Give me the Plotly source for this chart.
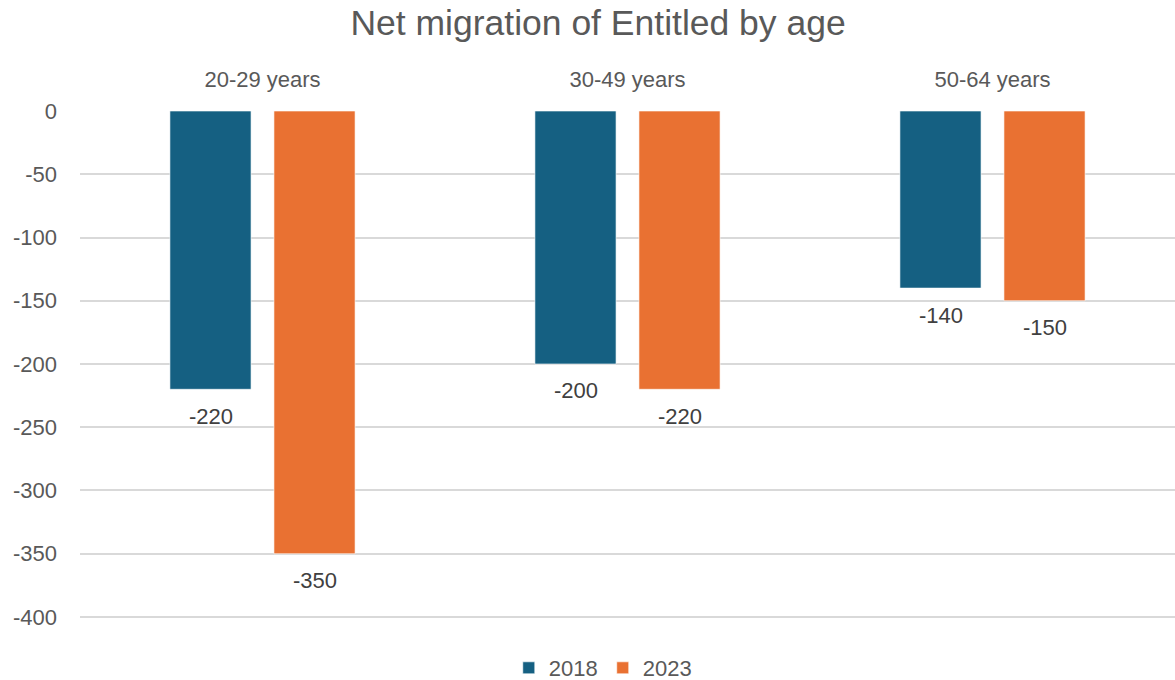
import plotly.graph_objects as go

# Net migration of Entitled, by age group and year
age_groups = ["20-29 years", "30-49 years", "50-64 years"]
years = ["2018", "2023"]
net_2018 = [-220, -200, -140]
net_2023 = [-350, -220, -150]
y_ticks = [0, -50, -100, -150, -200, -250, -300, -350, -400]

colors = {"2018": "#156082", "2023": "#E97132"}
series = {"2018": net_2018, "2023": net_2023}

FONT = "Liberation Sans, Arial, sans-serif"
TICK_GRAY = "#595959"
LABEL_GRAY = "#404040"

fig = go.Figure()
for yr in years:
    fig.add_trace(go.Bar(
        name=yr,
        x=age_groups,
        y=series[yr],
        marker=dict(color=colors[yr], line=dict(color="rgba(255,255,255,0.6)", width=1)),
        hoverinfo="x+y+name",
    ))

# Value labels beneath each bar end
offsets = {"2018": -52, "2023": 52}
for yr in years:
    for cat, val in zip(age_groups, series[yr]):
        fig.add_annotation(
            x=cat, y=val, xref="x", yref="y",
            text=str(val), showarrow=False,
            xshift=offsets[yr], yshift=-27,
            font=dict(family=FONT, size=22, color=LABEL_GRAY),
        )

fig.update_layout(
    width=1175, height=680,
    margin=dict(l=80, r=0, t=111, b=62),
    paper_bgcolor="white", plot_bgcolor="white",
    barmode="group",
    bargap=0.43,
    bargroupgap=0.22,
    title=dict(
        text="Net migration of Entitled by age",
        x=0.509, xanchor="center", xref="container",
        y=1 - 23 / 680, yanchor="middle", yref="container",
        font=dict(family=FONT, size=35.5, color=TICK_GRAY),
    ),
    xaxis=dict(
        side="top",
        showgrid=False, zeroline=False, showline=False, ticks="",
        tickfont=dict(family=FONT, size=22, color=TICK_GRAY),
        ticklabelstandoff=19,
    ),
    yaxis=dict(
        range=[-400.8, 0],
        tickvals=y_ticks,
        ticktext=[str(v) for v in y_ticks],
        showgrid=True, gridcolor="#D9D9D9", gridwidth=2,
        zeroline=False, showline=False, ticks="",
        tickfont=dict(family=FONT, size=22, color=TICK_GRAY),
        ticklabelstandoff=22,
    ),
    showlegend=True,
    legend=dict(
        orientation="h",
        x=0.513, xanchor="center", xref="container",
        y=1 - 668 / 680, yanchor="middle", yref="container",
        font=dict(family=FONT, size=22, color=TICK_GRAY),
        itemwidth=30,
        traceorder="normal",
    ),
)

fig.write_html("out.html")
